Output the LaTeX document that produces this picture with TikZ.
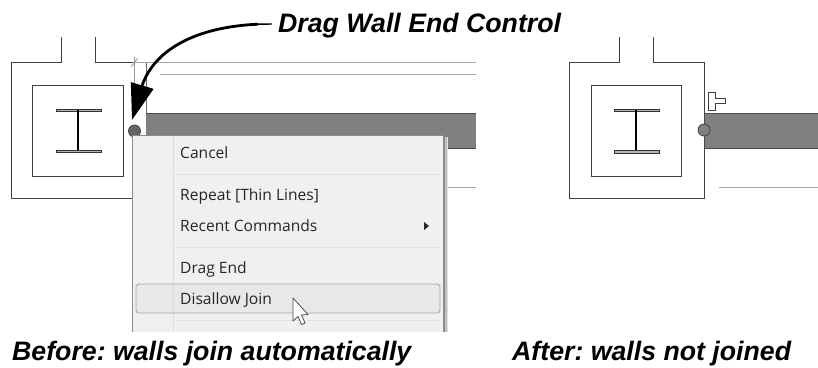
\documentclass[tikz,border=0pt]{standalone}
\usepackage{fontspec}
\setmainfont{Liberation Sans}
\newfontfamily\menufont{Open Sans}
\usetikzlibrary{arrows.meta}
\tikzset{
  x=1pt,y=-1pt,
  plan/.style={draw=black!75,line width=1pt},
  thinplan/.style={draw=black!35,line width=1pt},
  wall/.style={draw=black!70,fill=black!50,line width=1pt},
  flange/.style={draw=black!80,fill=black!30,line width=.8pt},
  web/.style={draw=black,line width=1.6pt},
  handle/.style={circle,draw=black!75,fill=black!60,line width=.8pt,minimum size=12pt,inner sep=0pt},
  caption/.style={font=\fontsize{26.7}{30}\selectfont\bfseries\itshape\frenchspacing,anchor=base west,inner sep=0pt,text=black},
  item/.style={font=\menufont\fontsize{15.6}{18}\selectfont,anchor=base west,inner sep=0pt,text=black!85},
  sep/.style={draw=black!12,line width=1pt},
}
\begin{document}
\begin{tikzpicture}
\useasboundingbox (0,0) rectangle (818,367);
% --- left plan
\draw[plan] (61,37) -- (61,62.5) -- (11.5,62.5) -- (11.5,198) -- (133,198);
\draw[plan] (95,37) -- (95,62.5) -- (133,62.5);
\draw[plan] (32.5,85) rectangle (123,176);
\draw[flange] (56,109) rectangle (101,111);
\draw[flange] (56,150) rectangle (101,152.5);
\draw[web] (78,110) -- (78,150);
\draw[thinplan] (133,62.5) -- (476,62.5);
\draw[thinplan] (160,74) -- (476,74);
\draw[black!60,line width=1pt] (146,62.5) -- (146,113);
\draw[black!40,line width=.8pt] (134.5,57) -- (134.5,84) (131,67) -- (138,58);
\fill[black!50] (146,113) rectangle (476,148);
\draw[black!70,line width=1pt] (146,113) -- (476,113) (146,148) -- (476,148);
\draw[thinplan] (440,187) -- (476,187);
\node[handle] (dotL) at (134.5,131) {};
% --- menu
\fill[black!12] (134,137) rectangle (448,332);
\fill[black!25] (134,137) rectangle (446.5,332);
\fill[black!45] (134,137) rectangle (445,332);
\fill[black!6,draw=black!45,line width=.8pt] (132,135) -- (443.5,135) -- (443.5,332) -- (132,332) -- cycle;
\fill[white] (131,331.5) rectangle (449,337);
\draw[black!14,line width=1pt] (173,136) -- (173,331);
\draw[sep] (175,174.5) -- (441,174.5);
\draw[sep] (175,247) -- (441,247);
\draw[sep] (175,320) -- (441,320);
\node[item] (m1) at (180,158.5) {Cancel};
\node[item] (m2) at (180,200) {Repeat [Thin Lines]};
\node[item] (m3) at (180,231) {Recent Commands};
\node[item] (m4) at (180,273) {Drag End};
\draw[black!35,fill=black!9,line width=.8pt,rounded corners=3pt] (136,284) rectangle (440,313);
\draw[black!14,line width=1pt] (173,284.5) -- (173,312.5);
\node[item] (m5) at (180,304) {Disallow Join};
\fill[black!85] (424,222) -- (429,226) -- (424,230) -- cycle;
\draw[black!70,fill=white,line width=.8pt,line join=round] (293,298) -- (293,321) -- (298,316.5) -- (301.5,324.5) -- (305,323) -- (301.5,315) -- (308,314.5) -- cycle;
% --- right plan
\draw[plan] (619,37) -- (619,62.5) -- (569.5,62.5) -- (569.5,198) -- (704,198) -- (704,62.5) -- (653,62.5) -- (653,37);
\draw[plan] (591,85) rectangle (681.5,176);
\draw[flange] (614,109) rectangle (659,111);
\draw[flange] (614,150) rectangle (659,153);
\draw[web] (636,110) -- (636,150);
\draw[wall] (704,113) -- (819,113) -- (819,148) -- (704,148) -- cycle;
\draw[thinplan] (719,187) -- (818,187);
\node[handle,fill=black!50] (dotR) at (704,130) {};
\draw[black!75,fill=white,line width=.9pt] (708,92) -- (715,92) -- (715,98.5) -- (725,98.5) -- (725,103) -- (715,103) -- (715,110.5) -- (708,110.5) -- cycle;
% --- labels
\node[caption] (title) at (278,32) {Drag Wall End Control};
\node[caption] (capL) at (12,360) {Before: walls join automatically};
\node[caption] (capR) at (512,360) {After: walls not joined};
\coordinate (lead) at (272,24);
\coordinate (tip) at (132,120);
\coordinate (bend) at (142.5,84.5);
\draw[black,line width=1.4pt] (lead) -- (258,24.2);
\draw[black,line width=2.8pt,line join=round,-{Triangle[length=36pt,width=23pt]}] (258,24.2) .. controls (195,27) and (155,50) .. (bend) -- (tip);
\end{tikzpicture}
\end{document}
